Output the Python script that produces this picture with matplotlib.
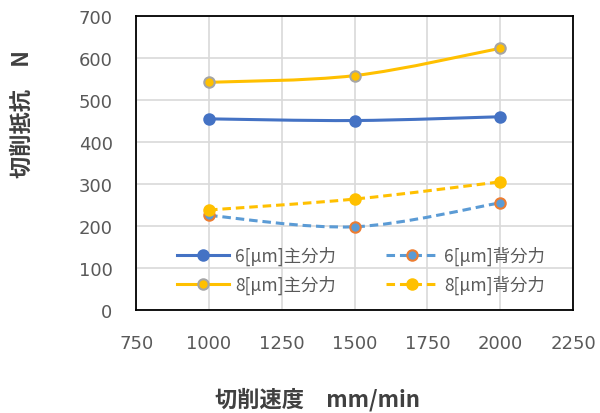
import matplotlib

matplotlib.use("Agg")
import matplotlib.pyplot as plt
import numpy as np
from matplotlib.lines import Line2D
from matplotlib.patches import PathPatch
from matplotlib.path import Path

plt.rcParams["font.family"] = ["Noto Sans CJK JP", "DejaVu Sans"]

speed = [1000, 1500, 2000]
main_6um = [455, 451, 460]
back_6um = [225, 198, 255]
main_8um = [542, 558, 623]
back_8um = [238, 264, 305]

labels = ["6[μm]主分力", "6[μm]背分力", "8[μm]主分力", "8[μm]背分力"]

BLUE, LBLUE, ORANGE, GOLD, GREY = "#4472C4", "#5B9BD5", "#ED7D31", "#FFC000", "#A5A5A5"
TXT = "#595959"
DASH = (0, (2.8, 1.6))

styles = [
    dict(color=BLUE, ls="-", mfc=BLUE, mec=BLUE),
    dict(color=LBLUE, ls=DASH, mfc=LBLUE, mec=ORANGE),
    dict(color=GOLD, ls="-", mfc=GOLD, mec=GREY),
    dict(color=GOLD, ls=DASH, mfc=GOLD, mec=GOLD),
]


def smooth_path(x, y):
    # Catmull-Rom style cubic segments, like spreadsheet "smoothed line"
    x = np.asarray(x, float)
    y = np.asarray(y, float)
    px = np.concatenate([[x[0]], x, [x[-1]]])
    py = np.concatenate([[y[0]], y, [y[-1]]])
    verts = [(x[0], y[0])]
    codes = [Path.MOVETO]
    for i in range(1, len(x)):
        c1 = (px[i] + (px[i + 1] - px[i - 1]) / 6, py[i] + (py[i + 1] - py[i - 1]) / 6)
        c2 = (px[i + 1] - (px[i + 2] - px[i]) / 6, py[i + 1] - (py[i + 2] - py[i]) / 6)
        verts += [c1, c2, (x[i], y[i])]
        codes += [Path.CURVE4] * 3
    return Path(verts, codes)


fig = plt.figure(figsize=(6.0, 4.14), dpi=100)
ax = fig.add_axes([0.227, 0.249, 0.728, 0.710])

handles = []
for vals, st in zip([main_6um, back_6um, main_8um, back_8um], styles):
    ax.add_patch(PathPatch(smooth_path(speed, vals), fill=False, edgecolor=st["color"],
                           lw=2.2, linestyle=st["ls"], zorder=3))
    ax.plot(speed, vals, ls="none", marker="o", ms=7.5, mfc=st["mfc"], mec=st["mec"],
            mew=1.5, zorder=4)
    handles.append(Line2D([], [], color=st["color"], lw=2.2, ls=st["ls"], marker="o", ms=7.5,
                          mfc=st["mfc"], mec=st["mec"], mew=1.5))

ax.set_xlim(750, 2250)
ax.set_ylim(0, 700)
ax.set_xticks(np.arange(750, 2251, 250))
ax.set_yticks(np.arange(0, 701, 100))
ax.grid(True, color="#D9D9D9", lw=1.2)
ax.set_axisbelow(True)
for sp in ax.spines.values():
    sp.set_color("black")
    sp.set_linewidth(1.3)
ax.tick_params(length=0, labelsize=13, labelcolor=TXT, pad=17)
for t in ax.get_xticklabels() + ax.get_yticklabels():
    t.set_family("DejaVu Sans")

ax.set_xlabel("切削速度　mm/min", fontsize=16, fontweight="bold", color="#404040")
ax.xaxis.label.set_va("center")
ax.xaxis.set_label_coords(0.414, -0.303)
ax.set_ylabel("切削抵抗　N", fontsize=16, fontweight="bold", color="#404040")
ax.yaxis.label.set_va("center")
ax.yaxis.set_label_coords(-0.262, 0.67)

# column-first fill, so interleave to get 6um on the first row
order = [0, 2, 1, 3]
ax.legend([handles[i] for i in order], [labels[i] for i in order], ncol=2,
          loc="center left", bbox_to_anchor=(0.093, 0.135), frameon=False,
          fontsize=12.5, labelcolor=TXT, handlelength=3.0, columnspacing=2.9,
          handletextpad=0.35, labelspacing=0.55, borderaxespad=0, borderpad=0)

fig.savefig("out.png", dpi=100)
